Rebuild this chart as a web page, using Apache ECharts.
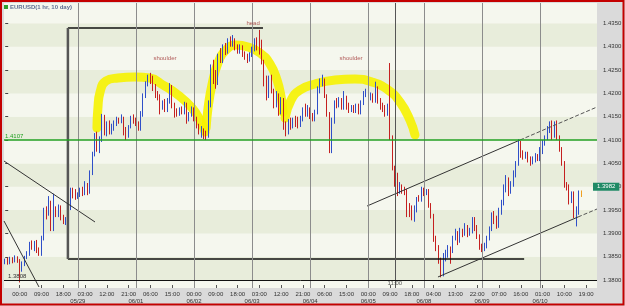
<!DOCTYPE html>
<html><head><meta charset="utf-8">
<script src="https://cdn.jsdelivr.net/npm/echarts@6/dist/echarts.min.js"></script>
<style>html,body{margin:0;padding:0;background:#fff}#c{width:625px;height:306px}</style>
</head><body><div id="c"></div>
<script>
// ---- data: EUR/USD 1 hr bars, index 0 = 05/27 18:00 ----
const openP = [
1.3838,1.3843,1.3836,1.3845,1.3840,1.3848,1.3842,1.3828,1.3835,1.3848,
1.3858,1.3878,1.3870,1.3880,1.3862,1.3856,1.3890,1.3950,1.3942,1.3966,
1.3910,1.3952,1.3940,1.3955,1.3933,1.3925,1.3930,1.3955,1.3992,1.3985,
1.3978,1.3982,1.3992,1.3985,1.4000,1.3988,1.4030,1.4070,1.4105,1.4085,
1.4100,1.4150,1.4115,1.4135,1.4118,1.4125,1.4138,1.4145,1.4140,1.4148,
1.4125,1.4110,1.4128,1.4145,1.4140,1.4135,1.4125,1.4158,1.4196,1.4222,
1.4235,1.4225,1.4210,1.4195,1.4190,1.4170,1.4180,1.4165,1.4182,1.4215,
1.4175,1.4160,1.4158,1.4165,1.4160,1.4178,1.4145,1.4155,1.4165,1.4145,
1.4130,1.4118,1.4120,1.4112,1.4108,1.4180,1.4255,1.4230,1.4222,1.4280,
1.4270,1.4298,1.4288,1.4312,1.4305,1.4315,1.4298,1.4292,1.4300,1.4283,
1.4278,1.4272,1.4282,1.4295,1.4310,1.4298,1.4290,1.4268,1.4220,1.4195,
1.4230,1.4205,1.4175,1.4195,1.4160,1.4185,1.4130,1.4118,1.4138,1.4130,
1.4140,1.4135,1.4130,1.4145,1.4165,1.4158,1.4165,1.4150,1.4145,1.4160,
1.4205,1.4225,1.4228,1.4195,1.4155,1.4085,1.4140,1.4180,1.4175,1.4185,
1.4170,1.4190,1.4172,1.4165,1.4168,1.4162,1.4172,1.4160,1.4180,1.4198,
1.4200,1.4190,1.4195,1.4185,1.4210,1.4185,1.4172,1.4168,1.4158,1.4170,
1.4105,1.4040,1.4008,1.3990,1.4002,1.3992,1.3990,1.3958,1.3942,1.3935,
1.3950,1.3975,1.3972,1.3992,1.3985,1.3990,1.3960,1.3938,1.3888,1.3870,
1.3840,1.3812,1.3852,1.3858,1.3868,1.3862,1.3890,1.3898,1.3885,1.3905,
1.3900,1.3912,1.3898,1.3905,1.3930,1.3912,1.3895,1.3870,1.3866,1.3872,
1.3890,1.3910,1.3940,1.3930,1.3915,1.3945,1.3965,1.3995,1.4015,1.3990,
1.4005,1.4025,1.4048,1.4095,1.4070,1.4065,1.4068,1.4058,1.4052,1.4060,
1.4065,1.4060,1.4078,1.4095,1.4105,1.4125,1.4130,1.4110,1.4135,1.4105,
1.4080,1.4050,1.4005,1.4000,1.3970,1.3985,1.3940,1.3945,1.3985];
const closeP = [
1.3843,1.3836,1.3845,1.3840,1.3848,1.3842,1.3828,1.3835,1.3848,1.3858,
1.3878,1.3870,1.3880,1.3862,1.3856,1.3890,1.3950,1.3942,1.3966,1.3910,
1.3952,1.3940,1.3955,1.3933,1.3925,1.3930,1.3955,1.3992,1.3985,1.3978,
1.3982,1.3992,1.3985,1.4000,1.3988,1.4030,1.4070,1.4105,1.4085,1.4100,
1.4150,1.4115,1.4135,1.4118,1.4125,1.4138,1.4145,1.4140,1.4148,1.4125,
1.4110,1.4128,1.4145,1.4140,1.4135,1.4125,1.4158,1.4196,1.4222,1.4235,
1.4225,1.4210,1.4195,1.4190,1.4170,1.4180,1.4165,1.4182,1.4215,1.4175,
1.4160,1.4158,1.4165,1.4160,1.4178,1.4145,1.4155,1.4165,1.4145,1.4130,
1.4118,1.4120,1.4112,1.4108,1.4180,1.4255,1.4230,1.4222,1.4280,1.4270,
1.4298,1.4288,1.4312,1.4305,1.4315,1.4298,1.4292,1.4300,1.4283,1.4278,
1.4272,1.4282,1.4295,1.4310,1.4298,1.4290,1.4268,1.4220,1.4195,1.4230,
1.4205,1.4175,1.4195,1.4160,1.4185,1.4130,1.4118,1.4138,1.4130,1.4140,
1.4135,1.4130,1.4145,1.4165,1.4158,1.4165,1.4150,1.4145,1.4160,1.4205,
1.4225,1.4228,1.4195,1.4155,1.4085,1.4140,1.4180,1.4175,1.4185,1.4170,
1.4190,1.4172,1.4165,1.4168,1.4162,1.4172,1.4160,1.4180,1.4198,1.4200,
1.4190,1.4195,1.4185,1.4210,1.4185,1.4172,1.4168,1.4158,1.4170,1.4105,
1.4040,1.4008,1.3990,1.4002,1.3992,1.3990,1.3958,1.3942,1.3935,1.3950,
1.3975,1.3972,1.3992,1.3985,1.3990,1.3960,1.3938,1.3888,1.3870,1.3840,
1.3812,1.3852,1.3858,1.3868,1.3862,1.3890,1.3898,1.3885,1.3905,1.3900,
1.3912,1.3898,1.3905,1.3930,1.3912,1.3895,1.3870,1.3866,1.3872,1.3890,
1.3910,1.3940,1.3930,1.3915,1.3945,1.3965,1.3995,1.4015,1.3990,1.4005,
1.4025,1.4048,1.4095,1.4070,1.4065,1.4068,1.4058,1.4052,1.4060,1.4065,
1.4060,1.4078,1.4095,1.4105,1.4125,1.4130,1.4110,1.4135,1.4105,1.4080,
1.4050,1.4005,1.4000,1.3970,1.3985,1.3940,1.3945,1.3985,1.3982];
const lowP = [
1.3834,1.3833,1.3834,1.3836,1.3838,1.3837,1.3795,1.3818,1.3830,1.3845,
1.3852,1.3865,1.3862,1.3858,1.3852,1.3852,1.3885,1.3930,1.3938,1.3905,
1.3905,1.3935,1.3935,1.3928,1.3920,1.3918,1.3925,1.3950,1.3975,1.3972,
1.3974,1.3978,1.3980,1.3982,1.3982,1.3985,1.4025,1.4065,1.4075,1.4072,
1.4096,1.4110,1.4108,1.4112,1.4112,1.4120,1.4130,1.4135,1.4136,1.4110,
1.4100,1.4105,1.4125,1.4135,1.4130,1.4120,1.4120,1.4150,1.4190,1.4215,
1.4220,1.4205,1.4190,1.4185,1.4155,1.4165,1.4160,1.4160,1.4178,1.4168,
1.4148,1.4150,1.4152,1.4155,1.4155,1.4135,1.4140,1.4150,1.4140,1.4125,
1.4112,1.4105,1.4102,1.4100,1.4105,1.4170,1.4220,1.4210,1.4218,1.4265,
1.4265,1.4282,1.4285,1.4300,1.4300,1.4292,1.4285,1.4285,1.4278,1.4272,
1.4265,1.4268,1.4278,1.4290,1.4292,1.4283,1.4262,1.4215,1.4185,1.4190,
1.4200,1.4168,1.4170,1.4152,1.4155,1.4122,1.4108,1.4112,1.4122,1.4125,
1.4128,1.4125,1.4128,1.4140,1.4150,1.4150,1.4145,1.4140,1.4140,1.4155,
1.4200,1.4215,1.4190,1.4150,1.4072,1.4072,1.4135,1.4168,1.4170,1.4165,
1.4165,1.4165,1.4158,1.4160,1.4158,1.4158,1.4155,1.4155,1.4175,1.4192,
1.4185,1.4185,1.4180,1.4180,1.4178,1.4165,1.4160,1.4150,1.4152,1.4100,
1.4035,1.4000,1.3980,1.3985,1.3985,1.3982,1.3935,1.3935,1.3928,1.3925,
1.3945,1.3968,1.3968,1.3980,1.3982,1.3955,1.3932,1.3882,1.3862,1.3835,
1.3806,1.3808,1.3840,1.3848,1.3835,1.3858,1.3885,1.3875,1.3880,1.3892,
1.3895,1.3892,1.3895,1.3900,1.3905,1.3888,1.3865,1.3860,1.3862,1.3868,
1.3885,1.3905,1.3920,1.3910,1.3912,1.3940,1.3960,1.3988,1.3980,1.3985,
1.4000,1.4020,1.4045,1.4062,1.4058,1.4060,1.4052,1.4045,1.4048,1.4052,
1.4055,1.4055,1.4070,1.4088,1.4100,1.4115,1.4100,1.4105,1.4100,1.4075,
1.4045,1.3998,1.3992,1.3962,1.3965,1.3933,1.3915,1.3940,1.3978];
const highP = [
1.3846,1.3848,1.3850,1.3849,1.3853,1.3851,1.3845,1.3840,1.3852,1.3862,
1.3882,1.3885,1.3884,1.3886,1.3870,1.3895,1.3955,1.3958,1.3980,1.3970,
1.3985,1.3958,1.3962,1.3960,1.3940,1.3935,1.3960,1.3998,1.3998,1.3995,
1.3988,1.3998,1.4000,1.4012,1.4008,1.4035,1.4075,1.4115,1.4118,1.4108,
1.4156,1.4154,1.4140,1.4142,1.4135,1.4142,1.4150,1.4148,1.4155,1.4150,
1.4128,1.4132,1.4152,1.4155,1.4148,1.4140,1.4162,1.4200,1.4226,1.4240,
1.4244,1.4238,1.4220,1.4205,1.4198,1.4185,1.4188,1.4190,1.4222,1.4218,
1.4180,1.4168,1.4170,1.4172,1.4182,1.4180,1.4160,1.4172,1.4170,1.4150,
1.4135,1.4130,1.4125,1.4120,1.4185,1.4262,1.4272,1.4250,1.4285,1.4297,
1.4305,1.4308,1.4318,1.4322,1.4325,1.4318,1.4305,1.4305,1.4303,1.4290,
1.4285,1.4288,1.4300,1.4318,1.4320,1.4336,1.4315,1.4272,1.4238,1.4238,
1.4240,1.4210,1.4205,1.4200,1.4192,1.4190,1.4140,1.4145,1.4148,1.4148,
1.4152,1.4150,1.4152,1.4170,1.4178,1.4175,1.4170,1.4158,1.4165,1.4215,
1.4232,1.4240,1.4232,1.4198,1.4160,1.4148,1.4185,1.4190,1.4192,1.4190,
1.4205,1.4195,1.4180,1.4175,1.4175,1.4178,1.4178,1.4185,1.4205,1.4210,
1.4205,1.4202,1.4200,1.4225,1.4215,1.4190,1.4180,1.4175,1.4178,1.4265,
1.4110,1.4045,1.4030,1.4010,1.4005,1.4000,1.3995,1.3965,1.3960,1.3960,
1.3978,1.3982,1.4000,1.3998,1.3995,1.3995,1.3965,1.3942,1.3895,1.3875,
1.3848,1.3858,1.3865,1.3875,1.3872,1.3895,1.3910,1.3905,1.3912,1.3910,
1.3922,1.3918,1.3912,1.3935,1.3935,1.3918,1.3898,1.3878,1.3880,1.3895,
1.3915,1.3945,1.3948,1.3938,1.3955,1.3972,1.4005,1.4025,1.4020,1.4012,
1.4035,1.4055,1.4102,1.4098,1.4078,1.4075,1.4075,1.4065,1.4065,1.4072,
1.4070,1.4085,1.4100,1.4110,1.4130,1.4140,1.4142,1.4140,1.4142,1.4110,
1.4085,1.4055,1.4010,1.4005,1.3990,1.3990,1.3958,1.3992,1.3992];

// tick labels: [bar index, text]
const timeTicks = [[6,'00:00'],[15,'09:00'],[24,'18:00'],[33,'03:00'],[42,'12:00'],[51,'21:00'],[60,'06:00'],[69,'15:00'],
  [78,'00:00'],[87,'09:00'],[96,'18:00'],[105,'03:00'],[114,'12:00'],[123,'21:00'],[132,'06:00'],[141,'15:00'],
  [150,'00:00'],[159,'09:00'],[168,'18:00'],[177,'04:00'],[186,'13:00'],[195,'22:00'],[204,'07:00'],[213,'16:00'],
  [222,'01:00'],[231,'10:00'],[240,'19:00']];
const dateTicks = [[30,'05/29'],[54,'06/01'],[78,'06/02'],[102,'06/03'],[126,'06/04'],[150,'06/05'],[173,'06/08'],[197,'06/09'],[221,'06/10']];
const cursorBar = 161, cursorLabel = '11:00';
const lastPrice = 1.3982;
const neckLevel = 1.4102, neckText = '1.4107';
const supportLevel = 1.3808, supportText = '1.3808';
const titleText = 'EURUSD(1 hr, 10 day)';

// annotation drawings in data coordinates [bar index, price]
const boxLines = [[[25.9,1.4340],[106.5,1.4340]], [[25.9,1.38452],[214.4,1.38452]]];
const boxLeft = [[25.9,1.4340],[25.9,1.38452]];
const diagA = [[-0.5,1.40551],[37.1,1.39245]];
const diagB = [[-0.5,1.39266],[13.96,1.37853]];
const chanUpper = [[149.5,1.39587],[212.7,1.41001]], chanUpperExt = [[212.7,1.41001],[244.5,1.41708]];
const chanLower = [[178.8,1.38067],[236.65,1.39352]], chanLowerExt = [[236.65,1.39352],[244.5,1.39523]];
const leftShoulder = [[37.9,1.41258],[38.3,1.41687],[39.2,1.42029],[41.6,1.42265],[46.6,1.42329],[53.6,1.42351],[59.8,1.42329],[65.2,1.42179],[71.4,1.41965],[77.2,1.41687],[80.9,1.41387],[82.6,1.41173]];
const headArc = [[83.0,1.41258],[83.8,1.41687],[85.4,1.42179],[87.9,1.42651],[91.2,1.42929],[95.4,1.43036],[100.3,1.42993],[105.3,1.42865],[109.4,1.42629],[112.3,1.42286],[114.0,1.41922],[114.8,1.41601]];
const rightShoulder = [[115.6,1.41472],[118.1,1.41858],[121.8,1.42072],[128.0,1.42201],[136.3,1.42286],[144.5,1.42308],[151.5,1.42244],[158.2,1.42072],[163.1,1.41815],[167.2,1.4143],[169.3,1.41108]];
const notes = [[66.0,1.42758,'shoulder'],[102.4,1.43507,'head'],[142.9,1.42758,'shoulder'],[161,1.37938,'11:00']];

const N_CAT = 245;
const cats = Array.from({length: N_CAT}, (_, i) => i);
const timeMap = new Map(timeTicks), dateMap = new Map(dateTicks);
const FONT = 'Liberation Sans, Arial, sans-serif';
const UP = '#2f4fc8', DOWN = '#c42020';
const candleData = openP.map((o, i) => {
  const v = [o, closeP[i], lowP[i], highP[i]];
  if (i === openP.length - 1) return {value: v, itemStyle: {color:'#f0a020', color0:'#f0a020', borderColor:'#f0a020', borderColor0:'#f0a020'}};
  return v;
});

function seg(data, color, width, type, z) {
  return {type:'line', xAxisIndex:1, yAxisIndex:0, data, symbol:'none', silent:true, animation:false,
    lineStyle:{color, width, type: type || 'solid'}, z: z || 3};
}
function yellow(data) {
  return {type:'line', xAxisIndex:1, yAxisIndex:0, data, symbol:'none', silent:true, smooth:0.5, z:1,
    lineStyle:{color:'rgba(246,242,0,0.9)', width:9, cap:'round', join:'round'}};
}

const chart = echarts.init(document.getElementById('c'), null, {renderer:'canvas'});
chart.setOption({
  animation:false,
  backgroundColor:'#dadada',
  textStyle:{fontFamily:FONT},
  title:{left:4, top:4, padding:0, text:'{sq|}{t|' + titleText + '}',
    textStyle:{rich:{sq:{width:4, height:4, backgroundColor:'#2ca02c'},
      t:{fontSize:6, color:'#5f6f95', fontFamily:FONT, padding:[0,0,0,2]}}}},
  grid:{left:4, right:28, top:3, bottom:18, show:true, backgroundColor:'#f5f7ee', borderWidth:0},
  xAxis:[
    {type:'category', data:cats, boundaryGap:true, axisLine:{show:false},
     axisTick:{show:true, inside:true, length:3, alignWithLabel:true, interval:(i)=>timeMap.has(i), lineStyle:{color:'#555'}},
     axisLabel:{interval:(i)=>timeMap.has(i), formatter:(v,i)=>timeMap.get(i)||'', fontSize:6, color:'#333', margin:3, fontFamily:FONT},
     splitLine:{show:false}},
    {type:'value', min:-0.5, max:N_CAT-0.5, show:false},
    {type:'category', data:cats, boundaryGap:true, position:'bottom', axisLine:{show:false}, axisTick:{show:false},
     axisLabel:{interval:(i)=>dateMap.has(i), formatter:(v,i)=>dateMap.get(i)||'', fontSize:6, color:'#333', margin:10, fontFamily:FONT},
     splitLine:{show:false}}
  ],
  yAxis:[{type:'value', position:'right', min:1.37831, max:1.43936, splitNumber:12, minInterval:0.005, maxInterval:0.005,
    axisLine:{show:false}, axisTick:{show:true, length:3, lineStyle:{color:'#444'}},
    axisLabel:{fontSize:6, color:'#333', margin:6, showMinLabel:false, showMaxLabel:false, formatter:(v)=>v.toFixed(4), fontFamily:FONT},
    splitLine:{show:false}, splitArea:{show:true, areaStyle:{color:['#f5f7ee','#e8eddb']}}}],
  series:[
    yellow(leftShoulder), yellow(headArc), yellow(rightShoulder),
    {type:'candlestick', name:titleText, xAxisIndex:0, yAxisIndex:0, data:candleData, barWidth:1.2, z:2,
     itemStyle:{color:UP, color0:DOWN, borderColor:UP, borderColor0:DOWN, borderWidth:1},
     markLine:{silent:true, symbol:['none','none'], animation:false,
       data:[
         ...dateTicks.map(d=>({xAxis:d[0], lineStyle:{color:'#8c8c8c', width:1, type:'solid'}, label:{show:false}})),
         {xAxis:cursorBar, lineStyle:{color:'#555', width:1, type:'solid'}, label:{show:false}},
         {yAxis:neckLevel, lineStyle:{color:'#22a022', width:1.5, type:'solid'},
          label:{show:true, position:'insideStartTop', formatter:neckText, color:'#22a022', fontSize:6, distance:[1,1], fontFamily:FONT}},
         {yAxis:supportLevel, lineStyle:{color:'#111', width:1, type:'solid'},
          label:{show:true, position:'insideStartTop', formatter:supportText, color:'#333', fontSize:6, distance:[4,1], fontFamily:FONT}},
         {yAxis:lastPrice, lineStyle:{color:'rgba(0,0,0,0)', width:0},
          label:{show:true, position:'end', formatter:lastPrice.toFixed(4), color:'#fff', backgroundColor:'#1f8a66', fontSize:6, padding:[1,4,1,4], distance:-4, fontFamily:FONT}}
       ]}},
    seg(boxLines[0], '#111', 1.5), seg(boxLines[1], '#111', 1.5), seg(boxLeft, '#555', 2.5),
    seg(diagA, '#333', 1), seg(diagB, '#333', 1),
    seg(chanUpper, '#333', 1), seg(chanUpperExt, '#555', 1, 'dashed'),
    seg(chanLower, '#333', 1), seg(chanLowerExt, '#555', 1, 'dashed'),
    {type:'scatter', xAxisIndex:1, yAxisIndex:0, silent:true, symbolSize:1, itemStyle:{color:'rgba(0,0,0,0)'}, z:5,
     data:notes.map(n=>({value:[n[0],n[1]], label:{show:true, position:'inside', formatter:n[2],
       color: n[2]==='11:00' ? '#333' : '#a03535', fontSize:6, fontFamily:FONT}}))}
  ],
  graphic:[{type:'rect', z:100, silent:true, shape:{x:1, y:1, width:622.5, height:303.5}, style:{fill:'none', stroke:'#c40000', lineWidth:2}}]
});
</script></body></html>
